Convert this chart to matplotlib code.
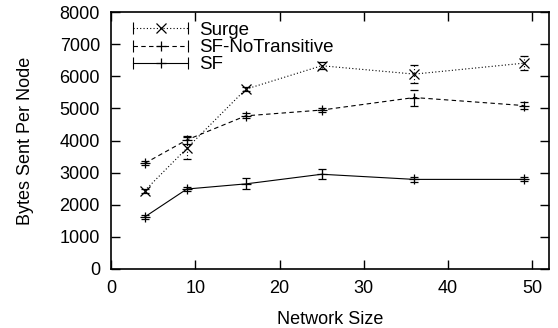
import matplotlib
matplotlib.use("Agg")
import matplotlib.pyplot as plt
from matplotlib.lines import Line2D
from matplotlib.legend_handler import HandlerLine2D, HandlerTuple

plt.rcParams['font.family'] = ['Liberation Sans', 'DejaVu Sans']

# data
sizes = [4, 9, 16, 25, 36, 49]
surge = [2440, 3760, 5600, 6330, 6070, 6410]
surge_err = [60, 350, 70, 110, 290, 220]
sf_notrans = [3290, 4020, 4770, 4950, 5340, 5090]
sf_notrans_err = [60, 130, 80, 60, 250, 120]
sf = [1620, 2490, 2650, 2950, 2790, 2790]
sf_err = [50, 60, 170, 160, 90, 60]

labels = ["Surge", "SF-NoTransitive", "SF"]
series = [(surge, surge_err, 'x', (0, (1, 2))),
          (sf_notrans, sf_notrans_err, '+', (0, (4, 3))),
          (sf, sf_err, '+', '-')]

fig = plt.figure(figsize=(5.58, 3.28), dpi=100)
ax = fig.add_axes([0.199, 0.18, 0.785, 0.783])

handles = []
hmap = {}
for (vals, err, m, ls), lab in zip(series, labels):
    cont = ax.errorbar(sizes, vals, yerr=err, color='k', lw=0.8, ls=ls,
                       marker=m, ms=7, mew=0.9, capsize=3, elinewidth=0.8,
                       capthick=0.8)
    for bc in cont[2]:
        bc.set_linestyle(ls)
    h_end = Line2D([], [], color='k', lw=0.8, ls=ls, marker='|', ms=8, mew=0.8)
    h_mid = Line2D([], [], color='k', ls='none', marker=m, ms=7, mew=0.9)
    hmap[h_end] = HandlerLine2D(numpoints=2, marker_pad=0)
    hmap[h_mid] = HandlerLine2D(numpoints=1)
    handles.append((h_end, h_mid))

hmap[tuple] = HandlerTuple(ndivide=1)
ax.legend(handles, labels, loc='upper left', bbox_to_anchor=(0.05, 0.962),
          frameon=False, fontsize=13.5, handlelength=2.95, handletextpad=0.6,
          labelspacing=0.0, borderaxespad=0, borderpad=0, handler_map=hmap)

ax.set_xlim(0, 52)
ax.set_ylim(0, 8000)
ax.set_xticks([0, 10, 20, 30, 40, 50])
ax.set_yticks(range(0, 8001, 1000))
ax.tick_params(direction='in', length=6.5, width=1, top=True, right=True,
               labelsize=13, pad=8)
for s in ax.spines.values():
    s.set_linewidth(1.2)
ax.set_xlabel("Network Size", fontsize=13, labelpad=10)
ax.set_ylabel("Bytes Sent Per Node", fontsize=13, labelpad=18)

fig.savefig("out.png", dpi=100)
